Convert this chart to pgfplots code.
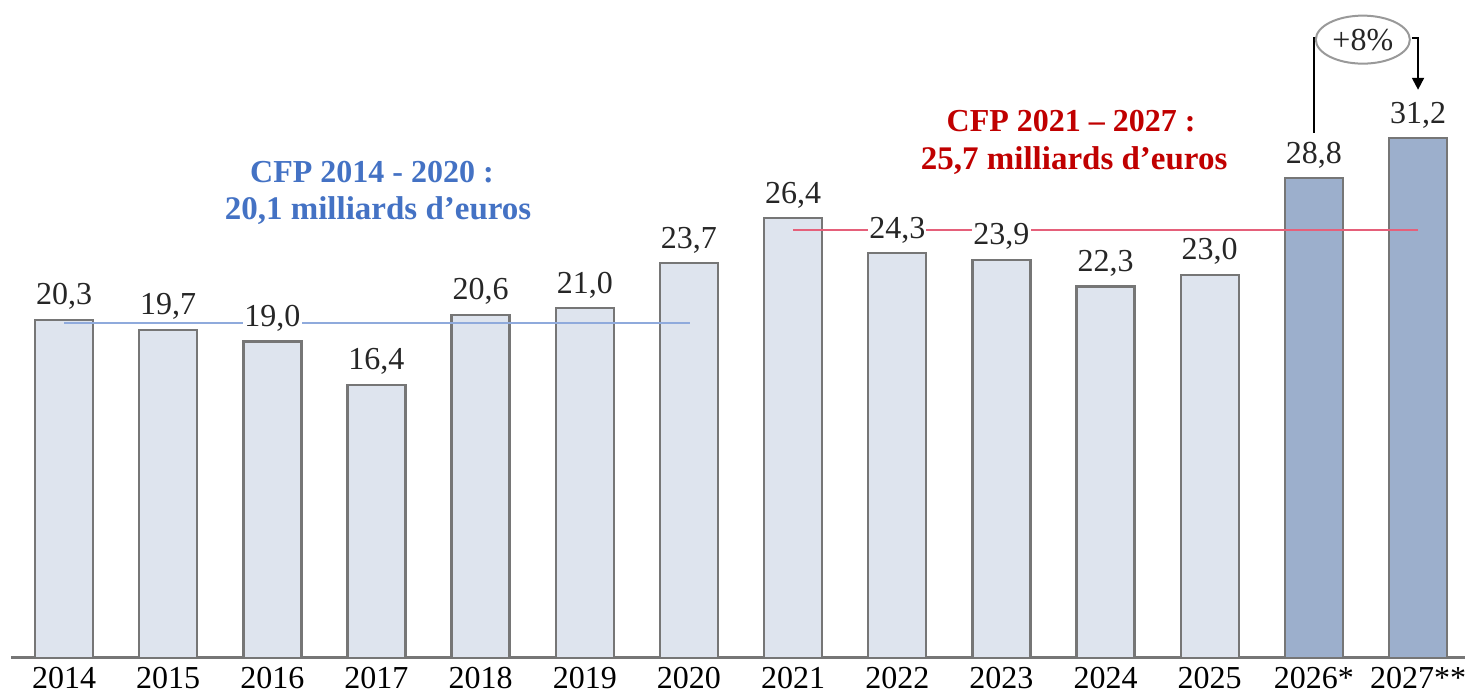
\documentclass[border=0pt]{standalone}
\usepackage{pgfplots}
\pgfplotsset{compat=1.18}
\usepackage{fontspec}
\setmainfont{Liberation Serif}
\usetikzlibrary{arrows.meta}
\definecolor{barlight}{HTML}{DEE4EE}
\definecolor{bardark}{HTML}{9CAFCC}
\definecolor{baredge}{HTML}{767676}
\definecolor{lineblue}{HTML}{8FAADC}
\definecolor{txtblue}{HTML}{4472C4}
\definecolor{linered}{HTML}{E5607A}
\definecolor{txtred}{HTML}{C00000}
\begin{document}
\begin{tikzpicture}[font=\fontsize{16}{19}\selectfont]
\useasboundingbox (0,0) rectangle (732.5pt,347.5pt);
\begin{axis}[
  at={(5.5pt,18.5pt)}, anchor=south west,
  scale only axis, width=727pt, height=329pt,
  xmin=-0.509, xmax=13.451, ymin=0, ymax=39.5,
  axis x line*=bottom, axis y line=none,
  x axis line style={draw=baredge, line width=1.5pt, -},
  xtick={0,...,13},
  xticklabels={2014,2015,2016,2017,2018,2019,2020,2021,2022,2023,2024,2025,2026*,2027**},
  major tick length=0pt,
  xticklabel style={anchor=base, yshift=-15.5pt, inner sep=0pt},
  clip=false,
]
\addplot[ybar, bar width=0.557, bar shift=0pt, fill=barlight, draw=baredge, line width=1.2pt]
  coordinates {(0,20.3) (1,19.7) (2,19.0) (3,16.4) (4,20.6) (5,21.0) (6,23.7) (7,26.4) (8,24.3) (9,23.9) (10,22.3) (11,23.0)};
\addplot[ybar, bar width=0.557, bar shift=0pt, fill=bardark, draw=baredge, line width=1.2pt]
  coordinates {(12,28.8) (13,31.2)};
% CFP averages
\addplot[lineblue, line width=1.2pt, mark=none] coordinates {(0,20.1) (6.01,20.1)};
\addplot[linered, line width=1.2pt, mark=none] coordinates {(7,25.7) (13,25.7)};
% value labels
\addplot[draw=none, mark=none, point meta=y,
  nodes near coords={\pgfmathprintnumber[fixed, fixed zerofill, precision=1, use comma, assume math mode=true]{\pgfplotspointmeta}},
  nodes near coords style={anchor=base, yshift=7.5pt, fill=white, text depth=0pt, inner sep=0.6pt, text=black!85}]
  coordinates {(0,20.3) (1,19.7) (2,19.0) (3,16.4) (4,20.6) (5,21.0) (6,23.7) (7,26.4) (8,24.3) (9,23.9) (10,22.3) (11,23.0) (12,28.8) (13,31.2)};
% titles
\node[anchor=base, text=txtblue, font=\fontsize{16}{19}\selectfont\bfseries] at (axis cs:2.957,28.53) {CFP 2014 - 2020 :};
\node[anchor=base, text=txtblue, font=\fontsize{16.5}{19}\selectfont\bfseries] at (axis cs:3.015,26.31) {20,1 milliards d’euros};
\node[anchor=base, text=txtred, font=\fontsize{16}{19}\selectfont\bfseries] at (axis cs:9.669,31.59) {CFP 2021 – 2027 :};
\node[anchor=base, text=txtred, font=\fontsize{16.5}{19}\selectfont\bfseries] at (axis cs:9.698,29.31) {25,7 milliards d’euros};
% +8% annotation
\draw[black, line width=1pt] (axis cs:12,31.53) -- (axis cs:12,37.24) -- (axis cs:12.05,37.24);
\draw[black, line width=1pt, -{Triangle[length=6pt,width=6pt]}] (axis cs:12.94,37.24) -- (axis cs:13,37.24) -- (axis cs:13,34.11);
\draw[gray!80, line width=1pt, fill=white] (axis cs:12.47,37.12) ellipse [x radius=23.5pt, y radius=12pt];
\node[text=black!85] at (axis cs:12.47,37.12) {+8\%};
\end{axis}
\end{tikzpicture}
\end{document}
